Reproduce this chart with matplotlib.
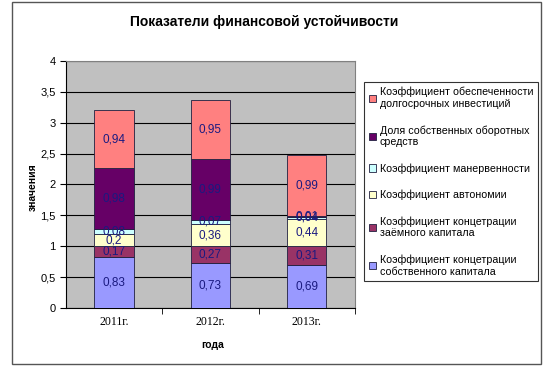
import matplotlib
matplotlib.use('Agg')
import matplotlib.pyplot as plt
import matplotlib.patches as mpatches
import numpy as np

plt.rcParams['font.family'] = ['Liberation Sans', 'DejaVu Sans']

years = ['2011г.', '2012г.', '2013г.']

# series from bottom to top of the stack
series_names = [
    'Коэффициент концетрации\nсобственного капитала',
    'Коэффициент концетрации\nзаёмного капитала',
    'Коэффициент автономии',
    'Коэффициент манервенности',
    'Доля собственных оборотных\nсредств',
    'Коэффициент обеспеченности\nдолгосрочных инвестиций',
]
own_capital = [0.83, 0.73, 0.69]
borrowed_capital = [0.17, 0.27, 0.31]
autonomy = [0.2, 0.36, 0.44]
maneuver = [0.08, 0.07, 0.04]
working_share = [0.98, 0.99, 0.01]
long_invest = [0.94, 0.95, 0.99]

series_values = [own_capital, borrowed_capital, autonomy, maneuver,
                 working_share, long_invest]
series_colors = ['#9999FF', '#993366', '#FFFFCC', '#CCFFFF', '#660066', '#FF8080']
label_color = '#1a1a80'

fig = plt.figure(figsize=(5.47, 3.70), dpi=100)

# outer chart border
fig.patches.append(mpatches.Rectangle((0.022, 0.016), 0.967, 0.978,
                                      transform=fig.transFigure, fill=False,
                                      edgecolor='#555555', linewidth=1.0))

ax = fig.add_axes([0.1207, 0.1676, 0.528, 0.6676])
ax.set_facecolor('#C0C0C0')

x = np.arange(len(years))
bottom = np.zeros(len(years))
handles = []
for name, vals, col in zip(series_names, series_values, series_colors):
    bars = ax.bar(x, vals, width=0.41, bottom=bottom, color=col,
                  edgecolor='#202040', linewidth=0.6, label=name, zorder=3)
    ax.bar_label(bars, labels=[f'{v:g}'.replace('.', ',') for v in vals],
                 label_type='center', fontsize=8.5, color=label_color, zorder=4)
    handles.append(bars)
    bottom += np.array(vals)

ax.set_xlim(-0.5, 2.5)
ax.set_ylim(0, 4)
ax.set_yticks(np.arange(0, 4.01, 0.5))
ax.set_yticklabels([f'{t:g}'.replace('.', ',') for t in np.arange(0, 4.01, 0.5)],
                   fontsize=8)
ax.yaxis.grid(True, color='black', linewidth=0.8, zorder=1)
ax.set_axisbelow(True)

ax.set_xticks(x)
ax.set_xticklabels(years, fontsize=8.5, family='Liberation Serif')
ax.tick_params(axis='x', length=0, pad=6)
ax.set_xticks([0.5, 1.5, 2.5], minor=True)
ax.tick_params(axis='x', which='minor', length=4, direction='out')
ax.tick_params(axis='y', length=4, direction='out')

for side in ['top', 'right']:
    ax.spines[side].set_color('#808080')
    ax.spines[side].set_linewidth(0.8)
for side in ['left', 'bottom']:
    ax.spines[side].set_color('black')
    ax.spines[side].set_linewidth(0.8)

fig.text(0.483, 0.94, 'Показатели финансовой устойчивости', ha='center',
         va='center', fontsize=10, fontweight='bold')
fig.text(0.388, 0.068, 'года', ha='center', va='center', fontsize=7.5,
         fontweight='bold')
fig.text(0.060, 0.495, 'значения', ha='center', va='center', fontsize=7.5,
         fontweight='bold', rotation=90)

leg = fig.legend(handles[::-1], series_names[::-1], loc='upper left',
                 bbox_to_anchor=(0.665, 0.778), fontsize=7.7, frameon=True,
                 fancybox=False, edgecolor='black', handlelength=0.7,
                 handleheight=0.7, handletextpad=0.35, labelspacing=1.5,
                 borderpad=0.45, borderaxespad=0)
leg.get_frame().set_linewidth(0.8)

plt.savefig('out.png', dpi=100)
